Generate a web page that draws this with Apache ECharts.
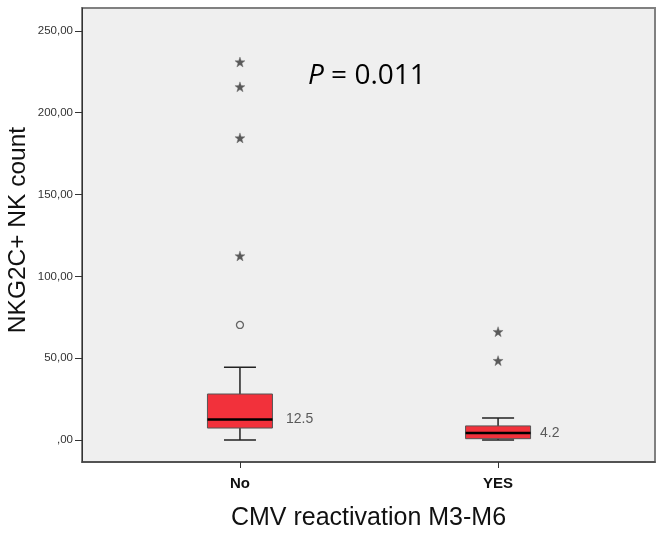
<!DOCTYPE html>
<html>
<head>
<meta charset="utf-8">
<script src="https://cdn.jsdelivr.net/npm/echarts@6/dist/echarts.min.js"></script>
<style>
  html, body { margin: 0; padding: 0; background: #fff; }
  #chart { width: 657px; height: 534px; }
</style>
</head>
<body>
<div id="chart"></div>
<script>
// groups on the x axis
var categories = ["No", "YES"];
// box statistics per group
var whiskerLow = [0, 0];
var q1 = [7.3, 0.8];
var median = [12.5, 4.2];
var q3 = [28.1, 8.6];
var whiskerHigh = [44.4, 13.4];
// outliers (circle) and extremes (star), one list per group
var outliers = [[70.3], []];
var extremes = [[231, 215.8, 184.6, 112.5], [66.2, 48.5]];
var yTicks = [0, 50, 100, 150, 200, 250];

var myChart = echarts.init(document.getElementById("chart"));

var boxData = categories.map(function (c, i) {
  return [i + 1, whiskerLow[i], q1[i], median[i], q3[i], whiskerHigh[i]];
});
var outlierData = [];
var extremeData = [];
categories.forEach(function (c, i) {
  outliers[i].forEach(function (v) { outlierData.push([i + 1, v]); });
  extremes[i].forEach(function (v) { extremeData.push([i + 1, v]); });
});
var labelOffsets = [46, 42];
var medianLabels = categories.map(function (c, i) {
  return {
    value: [i + 1, median[i]],
    label: { position: [labelOffsets[i], 0] }
  };
});

var starPath = "path://M0,-10 L2.35,-3.24 L9.51,-3.09 L3.8,1.24 L5.88,8.09 L0,4 L-5.88,8.09 L-3.8,1.24 L-9.51,-3.09 L-2.35,-3.24 Z";

var option = {
  animation: false,
  grid: {
    left: 82, right: 2, top: 8, bottom: 72,
    containLabel: false,
    outerBoundsMode: "none",
    show: true,
    backgroundColor: "#efefef",
    borderColor: "#808080",
    borderWidth: 2
  },
  xAxis: {
    type: "value",
    min: 0.388,
    max: 2.608,
    splitLine: { show: false },
    axisLine: { show: true, onZero: false, lineStyle: { color: "#444", width: 1.5 } },
    axisTick: { show: true, customValues: [1, 2], length: 6, lineStyle: { color: "#333" } },
    axisLabel: {
      customValues: [1, 2],
      margin: 14,
      color: "#111",
      fontFamily: "Liberation Sans",
      fontWeight: "bold",
      fontSize: 15,
      formatter: function (v) { return categories[Math.round(v) - 1]; }
    },
    name: "CMV reactivation M3-M6",
    nameLocation: "middle",
    nameGap: 44,
    nameTextStyle: { fontFamily: "Liberation Sans", fontSize: 25, color: "#111" }
  },
  yAxis: {
    type: "value",
    min: -13.45,
    max: 264,
    splitLine: { show: false },
    axisLine: { show: true, onZero: false, lineStyle: { color: "#333", width: 1 } },
    axisTick: { show: true, customValues: yTicks, length: 7, lineStyle: { color: "#333" } },
    axisLabel: {
      customValues: yTicks,
      margin: 9,
      color: "#333",
      fontFamily: "Liberation Sans",
      fontSize: 11.5,
      formatter: function (v) { return v === 0 ? ",00" : v + ",00"; }
    },
    name: "NKG2C+ NK count",
    nameLocation: "middle",
    nameGap: 51,
    nameMoveOverlap: false,
    nameTextStyle: { fontFamily: "Liberation Sans", fontSize: 24.5, color: "#111", padding: [0, 0, 0, 10] }
  },
  series: [
    {
      type: "custom",
      data: boxData,
      encode: { x: 0, y: [1, 2, 3, 4, 5] },
      renderItem: function (params, api) {
        var x = api.value(0);
        var pLow = api.coord([x, api.value(1)]);
        var pQ1 = api.coord([x, api.value(2)]);
        var pMed = api.coord([x, api.value(3)]);
        var pQ3 = api.coord([x, api.value(4)]);
        var pHigh = api.coord([x, api.value(5)]);
        var cx = pQ1[0];
        var half = 32.5, cap = 16;
        var lineStyle = { stroke: "#222", lineWidth: 1.5 };
        return {
          type: "group",
          children: [
            { type: "line", shape: { x1: cx, y1: pQ3[1], x2: cx, y2: pHigh[1] }, style: lineStyle },
            { type: "line", shape: { x1: cx, y1: pQ1[1], x2: cx, y2: pLow[1] }, style: lineStyle },
            { type: "line", shape: { x1: cx - cap, y1: pHigh[1], x2: cx + cap, y2: pHigh[1] }, style: lineStyle },
            { type: "line", shape: { x1: cx - cap, y1: pLow[1], x2: cx + cap, y2: pLow[1] }, style: lineStyle },
            {
              type: "rect",
              shape: { x: cx - half, y: pQ3[1], width: half * 2, height: pQ1[1] - pQ3[1] },
              style: { fill: "#f2313b", stroke: "#555", lineWidth: 1 }
            },
            { type: "line", shape: { x1: cx - half, y1: pMed[1], x2: cx + half, y2: pMed[1] }, style: { stroke: "#000", lineWidth: 2.5 } }
          ]
        };
      }
    },
    {
      type: "scatter",
      data: outlierData,
      symbol: "circle",
      symbolSize: 7,
      itemStyle: { color: "rgba(0,0,0,0)", borderColor: "#444", borderWidth: 1.3 }
    },
    {
      type: "scatter",
      data: extremeData,
      symbol: starPath,
      symbolSize: 10,
      itemStyle: { color: "#333", borderColor: "#666", borderWidth: 0.5 }
    },
    {
      type: "scatter",
      data: medianLabels,
      symbolSize: 0,
      label: {
        show: true,
        verticalAlign: "middle",
        formatter: function (p) { return String(p.value[1]); },
        fontFamily: "Liberation Sans",
        fontSize: 14,
        color: "#333"
      }
    }
  ],
  graphic: [
    {
      type: "text",
      left: 308,
      top: 62,
      style: {
        text: "{i|P} = 0.011",
        rich: {
          i: { fontFamily: "Open Sans", fontStyle: "italic", fontSize: 28, fill: "#000" }
        },
        fontFamily: "Open Sans",
        fontSize: 28,
        fill: "#000"
      }
    }
  ]
};

window.addEventListener("resize", function () {
  myChart.resize();
});
myChart.setOption(option);
</script>
</body>
</html>
